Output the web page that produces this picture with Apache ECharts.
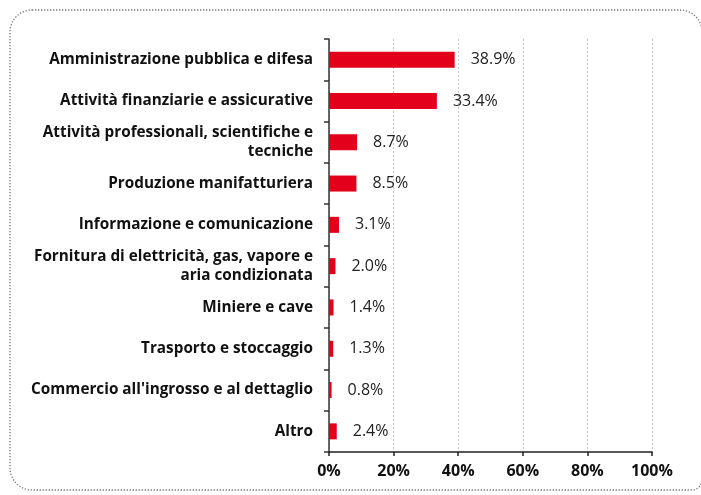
<!DOCTYPE html>
<html>
<head>
<meta charset="utf-8">
<script src="https://cdn.jsdelivr.net/npm/echarts@6/dist/echarts.min.js"></script>
<style>
    html, body { margin: 0; padding: 0; background: #fff; }
    #chart { width: 701px; height: 495px; }
</style>
</head>
<body>
<div id="chart"></div>
<script>
    // categories from top to bottom
    var categories = [
        'Amministrazione pubblica e difesa',
        'Attività finanziarie e assicurative',
        'Attività professionali, scientifiche e\ntecniche',
        'Produzione manifatturiera',
        'Informazione e comunicazione',
        'Fornitura di elettricità, gas, vapore e\naria condizionata',
        'Miniere e cave',
        'Trasporto e stoccaggio',
        "Commercio all'ingrosso e al dettaglio",
        'Altro'
    ];
    var shares = [38.9, 33.4, 8.7, 8.5, 3.1, 2.0, 1.4, 1.3, 0.8, 2.4];

    var chart = echarts.init(document.getElementById('chart'));
    var option = {
        animation: false,
        graphic: [{
            type: 'rect',
            shape: { x: 10, y: 10, width: 692, height: 480, r: [22, 22, 10, 22] },
            style: { fill: 'none', stroke: '#777', lineWidth: 1.3, lineDash: [1.3, 1.7] },
            silent: true
        }],
        grid: { left: 329, right: 49, top: 39, bottom: 43 },
        xAxis: {
            type: 'value',
            min: 0,
            max: 100,
            interval: 20,
            axisLine: { show: true, lineStyle: { color: '#222', width: 1.5 } },
            axisTick: { show: true, length: 4, lineStyle: { color: '#222', width: 1.5 } },
            axisLabel: {
                formatter: '{value}%',
                color: '#111',
                fontWeight: 'bold',
                fontSize: 16,
                fontFamily: 'Open Sans',
                margin: 11
            },
            splitLine: { show: true, lineStyle: { color: '#c4c4c4', type: [2, 2], width: 1 } }
        },
        yAxis: {
            type: 'category',
            inverse: true,
            data: categories,
            axisLine: { show: true, lineStyle: { color: '#333', width: 1.5 } },
            axisTick: { show: true, length: 5, lineStyle: { color: '#333', width: 1.5 } },
            axisLabel: {
                color: '#111',
                fontWeight: 'bold',
                fontSize: 15.3,
                fontFamily: 'Open Sans',
                lineHeight: 19,
                margin: 16,
                align: 'right'
            }
        },
        series: [{
            type: 'bar',
            data: shares,
            barWidth: 16,
            itemStyle: { color: '#e2001a' },
            label: {
                show: true,
                position: 'right',
                distance: 16,
                formatter: function (p) { return p.value.toFixed(1) + '%'; },
                color: '#222',
                fontSize: 16,
                fontFamily: 'Open Sans'
            }
        }]
    };
    chart.setOption(option);
</script>
</body>
</html>
